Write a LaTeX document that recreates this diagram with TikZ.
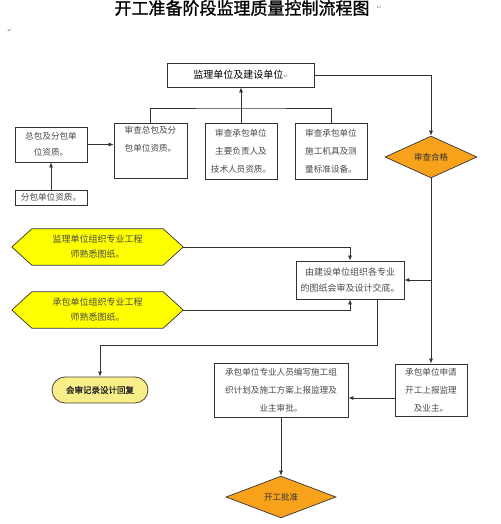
\documentclass[tikz,border=0pt]{standalone}
\usepackage{fontspec}
\newfontfamily\cjk{Noto Sans CJK SC}
\newfontfamily\cjkb[FakeBold=1.2]{Noto Sans CJK SC}
\newfontfamily\dv{DejaVu Sans}
\usetikzlibrary{shapes.geometric,arrows.meta,backgrounds}
\definecolor{lineC}{HTML}{333333}
\definecolor{orangeF}{HTML}{F8A21C}
\definecolor{yelF}{HTML}{FFFF00}
\definecolor{paleY}{HTML}{F7EE8A}
\definecolor{txtC}{HTML}{4A4A4A}
\begin{document}
\begin{tikzpicture}[x=1pt,y=-1pt,
  arr/.style={draw=lineC,line width=0.7pt,-{Latex[length=5pt,width=4pt]}},
  ln/.style={draw=lineC,line width=0.7pt},
  box/.style={draw=lineC,line width=0.8pt,fill=white,align=center,inner sep=0pt,
    font=\cjk\fontsize{8.6}{18}\selectfont,text=txtC},
  hexbox/.style={align=center,inner sep=0pt,font=\cjk\fontsize{9}{15}\selectfont,text=txtC,
    minimum width=171pt,minimum height=36pt},
  hexs/.style={draw=lineC,line width=0.7pt,fill=yelF},
  dia/.style={diamond,draw=lineC,line width=0.7pt,fill=orangeF,inner sep=0pt,
    font=\cjk\fontsize{8.5}{10}\selectfont,text=black!80}]
\useasboundingbox (0,0) rectangle (500,524);

% title
\node (title) at (242,8) {\cjkb\fontsize{17}{17}\selectfont 开工准备阶段监理质量控制流程图};
\node[anchor=west,text=black!45,font=\dv\fontsize{6}{6}\selectfont] (tmark) at (title.east) {↵};
\node[text=black!45,font=\dv\fontsize{6}{6}\selectfont] (pmark) at (10,31) {↵};

% boxes
\node[box,minimum width=147pt,minimum height=24pt,font=\cjk\fontsize{10}{12}\selectfont,text=black]
  (top) at (241,75) {监理单位及建设单位\textcolor{black!45}{\dv\fontsize{6}{6}\selectfont ↵}};
\node[box,minimum width=72pt,minimum height=35pt,font=\cjk\fontsize{8.6}{16}\selectfont] (lbox) at (51,144.5) {总包及分包单\\位资质。};
\node[box,minimum width=72pt,minimum height=15pt] (bbox) at (51,197.5) {分包单位资质。};
\node[box,minimum width=73pt,minimum height=55pt] (box2) at (150.5,150.5) {审查总包及分\\包单位资质。\\[0pt]\strut};
\node[box,minimum width=72pt,minimum height=56pt] (box3) at (241,151) {审查承包单位\\主要负责人及\\技术人员资质。};
\node[box,minimum width=72pt,minimum height=56pt] (box4) at (331,151) {审查承包单位\\施工机具及测\\量标准设备。};
\node[dia,minimum width=92pt,minimum height=34pt] (d1) at (431,157) {审查合格};

% hexagons
\node[hexbox] (hex1) at (97.5,247) {监理单位组织专业工程\\师熟悉图纸。};
\node[hexbox] (hex2) at (97.5,310) {承包单位组织专业工程\\师熟悉图纸。};
\begin{scope}[on background layer]
\foreach \h in {hex1,hex2}{
  \path[hexs] (\h.west) -- ([xshift=20pt]\h.north west) -- ([xshift=-20pt]\h.north east)
    -- (\h.east) -- ([xshift=-20pt]\h.south east) -- ([xshift=20pt]\h.south west) -- cycle;}
\end{scope}

\node[box,minimum width=108pt,minimum height=38pt,font=\cjk\fontsize{9}{16}\selectfont] (boxY) at (350,280)
  {由建设单位组织各专业\\的图纸会审及设计交底。};
\node[draw=lineC!80!brown,line width=0.8pt,fill=paleY,rounded corners=13pt,minimum width=96pt,
  minimum height=26pt,inner sep=0pt,font=\cjkb\fontsize{8.5}{10}\selectfont,text=black!85]
  (rec) at (100,390) {会审记录设计回复};
\node[box,minimum width=134pt,minimum height=54pt] (boxP) at (281,390)
  {承包单位专业人员编写施工组\\织计划及施工方案上报监理及\\业主审批。};
\node[box,minimum width=72pt,minimum height=52pt] (boxS) at (431,390)
  {承包单位申请\\开工上报监理\\及业主。};
\node[dia,minimum width=110pt,minimum height=36pt] (d2) at (281,497) {开工批准};

% connectors
\draw[arr] (top.east) -| (d1.north);
\coordinate (tj) at (241,108);
\draw[ln] (box2.north) |- (tj) -| (box4.north);
\draw[arr] (box3.north) -- (top.south);
\draw[arr] (lbox.east) -- (box2.west |- lbox.east);
\draw[arr] (bbox.north) -- (lbox.south);
\draw[arr] (d1.south) -- (boxS.north);
\draw[arr] (d1.south |- boxY.east) -- (boxY.east);
\draw[arr] (hex1.east) -| (boxY.north);
\draw[arr] (hex2.east) -| (boxY.south);
\coordinate (j2) at (377,345);
\draw[arr] ([xshift=27pt]boxY.south) -- (j2) -| (rec.north);
\draw[arr] ([yshift=-8pt]boxS.west) -- ([yshift=-8pt]boxP.east);
\draw[arr] (boxP.south) -- (d2.north);
\end{tikzpicture}
\end{document}
